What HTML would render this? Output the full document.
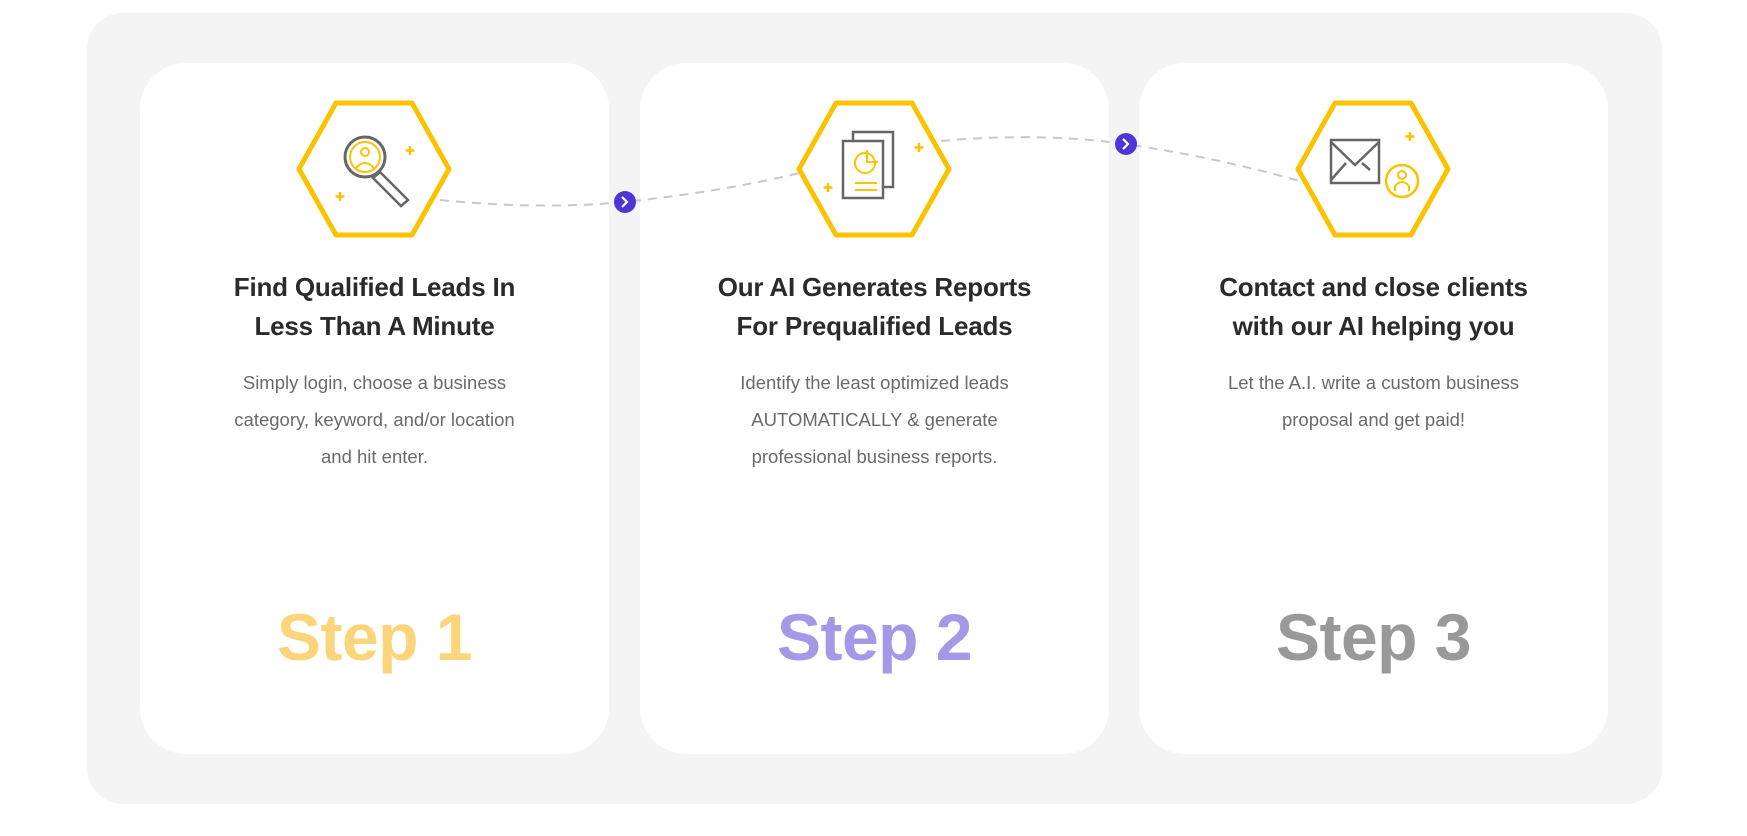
<!DOCTYPE html>
<html><head><meta charset="utf-8">
<style>
html,body{margin:0;padding:0;background:#fff;}
body{width:1747px;height:836px;position:relative;overflow:hidden;font-family:"Liberation Sans",sans-serif;}
.outer{position:absolute;left:87px;top:13px;width:1575px;height:791px;background:#f4f4f4;border-radius:36px;}
.card{position:absolute;top:63px;width:469px;height:691px;background:#fff;border-radius:46px;}
.t{position:absolute;left:0;right:0;top:205px;text-align:center;font-size:26px;font-weight:bold;color:#2b2b2b;line-height:39px;letter-spacing:-0.2px;}
.d{position:absolute;left:0;right:0;top:301px;text-align:center;font-size:18.5px;color:#6a6a6a;line-height:37px;}
.s{position:absolute;left:0;right:0;top:529px;text-align:center;font-size:66px;font-weight:bold;line-height:90px;letter-spacing:-0.5px;}
svg{position:absolute;left:0;top:0;}
</style></head><body>
<div class="outer"></div>
<div class="card" style="left:140px">
  <div class="t">Find Qualified Leads In<br>Less Than A Minute</div>
  <div class="d">Simply login, choose a business<br>category, keyword, and/or location<br>and hit enter.</div>
  <div class="s" style="color:#fcd57a">Step 1</div>
</div>
<div class="card" style="left:640px">
  <div class="t">Our AI Generates Reports<br>For Prequalified Leads</div>
  <div class="d">Identify the least optimized leads<br>AUTOMATICALLY &amp; generate<br>professional business reports.</div>
  <div class="s" style="color:#a598e6">Step 2</div>
</div>
<div class="card" style="left:1139px">
  <div class="t">Contact and close clients<br>with our AI helping you</div>
  <div class="d">Let the A.I. write a custom business<br>proposal and get paid!</div>
  <div class="s" style="color:#999">Step 3</div>
</div>
<svg width="1747" height="836" viewBox="0 0 1747 836">
  <g fill="none" stroke="#c8c8c8" stroke-width="2" stroke-dasharray="9 7">
    <path d="M440 200 Q540 210 624 202 Q720 192 800 173"/>
    <path d="M941 141 Q1040 132 1125 144 Q1220 158 1303 182"/>
  </g>
  <g>
    <circle cx="625" cy="202" r="11" fill="#4f35d6"/>
    <path d="M622 197 L627 202 L622 207" stroke="#fff" stroke-width="2.2" fill="none"/>
    <circle cx="1126" cy="144" r="11" fill="#4f35d6"/>
    <path d="M1123 139 L1128 144 L1123 149" stroke="#fff" stroke-width="2.2" fill="none"/>
  </g>
  <g fill="#fff" stroke="#fcc200" stroke-width="5" stroke-linejoin="round">
    <path d="M336 103 L412 103 L449 169 L412 235 L336 235 L299 169 Z"/>
    <path d="M836 103 L912 103 L949 169 L912 235 L836 235 L799 169 Z"/>
    <path d="M1335 103 L1411 103 L1448 169 L1411 235 L1335 235 L1298 169 Z"/>
  </g>
  <g fill="none">
    <circle cx="365" cy="157" r="20" stroke="#666" stroke-width="3"/>
    <circle cx="365" cy="157" r="15" stroke="#fcc200" stroke-width="2"/>
    <circle cx="365" cy="152" r="4" stroke="#fcc200" stroke-width="2"/>
    <path d="M356 168 Q365 158 374 168" stroke="#fcc200" stroke-width="2"/>
    <path d="M380 172 L373 178 L401 206 L408 200 Z" stroke="#666" stroke-width="2.5"/>
    <path d="M410 146 v9 M405.5 150.5 h9 M340 192 v9 M335.5 196.5 h9" stroke="#fcc200" stroke-width="2.5"/>
  </g>
  <g fill="none">
    <rect x="853" y="132" width="40" height="55" stroke="#666" stroke-width="2.5" fill="#fff"/>
    <rect x="843" y="141" width="40" height="57" stroke="#666" stroke-width="2.5" fill="#fff"/>
    <circle cx="865" cy="163" r="10" stroke="#fcc200" stroke-width="2"/>
    <path d="M867 150 V162 H878" stroke="#fcc200" stroke-width="2"/>
    <path d="M855 183 h22 M855 190 h22" stroke="#fcc200" stroke-width="2"/>
    <path d="M919 143 v9 M914.5 147.5 h9 M828 183 v9 M823.5 187.5 h9" stroke="#fcc200" stroke-width="2.5"/>
  </g>
  <g fill="none">
    <rect x="1331" y="140" width="48" height="43" stroke="#666" stroke-width="2.5"/>
    <path d="M1331 142 L1355 165 L1379 142 M1331 180 L1346 163 M1362 163 L1370 170" stroke="#666" stroke-width="2.5"/>
    <circle cx="1402" cy="181" r="16" stroke="#fcc200" stroke-width="2.5" fill="#fff"/>
    <circle cx="1402" cy="175" r="4" stroke="#fcc200" stroke-width="2"/>
    <path d="M1395 191 v-5 q7 -8 14 0 v5" stroke="#fcc200" stroke-width="2"/>
    <path d="M1410 132 v9 M1405.5 136.5 h9" stroke="#fcc200" stroke-width="2.5"/>
  </g>
</svg>
</body></html>
